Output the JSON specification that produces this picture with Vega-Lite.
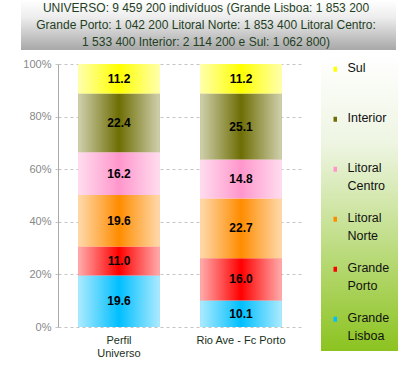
{
  "$schema": "https://vega.github.io/schema/vega-lite/v6.json",
  "padding": {"left": 20, "top": 0, "right": 5, "bottom": 5},
  "background": "white",
  "spacing": 8,
  "config": {"font": "Liberation Sans"},
  "vconcat": [
    {
      "width": 338,
      "height": 50,
      "view": {"stroke": null},
      "data": {"values": [
        {"line": 1, "txt": "UNIVERSO: 9 459 200 indivíduos (Grande Lisboa: 1 853 200"},
        {"line": 2, "txt": "Grande Porto: 1 042 200  Litoral Norte: 1 853 400 Litoral Centro:"},
        {"line": 3, "txt": "1 533 400 Interior: 2 114 200 e Sul: 1 062 800)"}
      ]},
      "layer": [
        {
          "data": {"values": [{"band": "header"}]},
          "mark": {"type": "rect", "fill": {"gradient": "linear", "x1": 0, "y1": 0, "x2": 0, "y2": 1,
            "stops": [{"offset": 0, "color": "#ffffff"}, {"offset": 0.35, "color": "#ededed"}, {"offset": 1, "color": "#a8a8a8"}]}},
          "encoding": {
            "x": {"datum": -0.1095, "type": "quantitative", "scale": {"domain": [0, 1], "nice": false, "zero": false}, "axis": null},
            "x2": {"datum": 1}
          }
        },
        {
          "mark": {"type": "text", "fontSize": 12, "color": "#1f3f1f", "align": "center", "baseline": "middle"},
          "encoding": {
            "y": {"field": "line", "type": "ordinal", "axis": null},
            "x": {"datum": 0.438, "type": "quantitative", "axis": null},
            "text": {"field": "txt"}
          }
        }
      ]
    },
    {
      "width": 244,
      "height": 263,
      "view": {"stroke": null},
      "data": {"values": [
        {"grupo": "Perfil Universo", "regiao": "Grande Lisboa", "ord": 1, "pct": 19.6},
        {"grupo": "Perfil Universo", "regiao": "Grande Porto", "ord": 2, "pct": 11.0},
        {"grupo": "Perfil Universo", "regiao": "Litoral Norte", "ord": 3, "pct": 19.6},
        {"grupo": "Perfil Universo", "regiao": "Litoral Centro", "ord": 4, "pct": 16.2},
        {"grupo": "Perfil Universo", "regiao": "Interior", "ord": 5, "pct": 22.4},
        {"grupo": "Perfil Universo", "regiao": "Sul", "ord": 6, "pct": 11.2},
        {"grupo": "Rio Ave - Fc Porto", "regiao": "Grande Lisboa", "ord": 1, "pct": 10.1},
        {"grupo": "Rio Ave - Fc Porto", "regiao": "Grande Porto", "ord": 2, "pct": 16.0},
        {"grupo": "Rio Ave - Fc Porto", "regiao": "Litoral Norte", "ord": 3, "pct": 22.7},
        {"grupo": "Rio Ave - Fc Porto", "regiao": "Litoral Centro", "ord": 4, "pct": 14.8},
        {"grupo": "Rio Ave - Fc Porto", "regiao": "Interior", "ord": 5, "pct": 25.1},
        {"grupo": "Rio Ave - Fc Porto", "regiao": "Sul", "ord": 6, "pct": 11.2}
      ]},
      "encoding": {
        "x": {
          "field": "grupo", "type": "nominal", "title": null,
          "scale": {"paddingInner": 0.33, "paddingOuter": 0.165},
          "axis": {
            "labelAngle": 0, "ticks": false, "domain": false, "labelPadding": 7,
            "labelFontSize": 11, "labelColor": "#1a301a",
            "labelExpr": "datum.label == 'Perfil Universo' ? ['Perfil', 'Universo'] : datum.label"
          }
        },
        "y": {
          "field": "pct", "type": "quantitative", "stack": "normalize", "title": null,
          "axis": {
            "values": [0, 0.2, 0.4, 0.6, 0.8, 1], "format": ".0%",
            "labelColor": "#888888", "labelFontSize": 11, "labelPadding": 2,
            "domainColor": "#aaaaaa", "tickColor": "#c4c4c4", "tickDash": [3, 3], "tickSize": 5,
            "gridColor": "#c4c4c4", "gridDash": [3, 3]
          }
        },
        "order": {"field": "ord", "type": "quantitative"}
      },
      "layer": [
        {
          "mark": {"type": "bar"},
          "encoding": {
            "color": {
              "field": "regiao", "type": "nominal",
              "scale": {
                "domain": ["Sul", "Interior", "Litoral Centro", "Litoral Norte", "Grande Porto", "Grande Lisboa"],
                "range": ["#ffff00", "#6e6e05", "#ff96cc", "#ff8c00", "#ff0000", "#00bfff"]
              },
              "legend": {
                "title": null, "orient": "none", "legendX": 263, "legendY": 55,
                "padding": 8, "symbolType": "M-0.35,-0.5H0.35V0.5H-0.35Z", "symbolSize": 100,
                "symbolStrokeWidth": 0, "labelFontSize": 12.5, "labelColor": "#111111", "labelOffset": 6,
                "rowPadding": 19,
                "labelExpr": "indexof(datum.label, ' ') > 0 ? split(datum.label, ' ') : [datum.label, '']",
                "labelBaseline": "top",
                "encode": {
                  "legend": {"update": {"fill": {"value": {"gradient": "linear", "x1": 0, "y1": 0, "x2": 0, "y2": 1,
                    "stops": [{"offset": 0, "color": "#ffffff"}, {"offset": 0.3, "color": "#eef5e2"}, {"offset": 1, "color": "#8cc320"}]}}}},
                  "labels": {"update": {"dy": {"value": -7}, "lineHeight": {"value": 18}}}
                }
              }
            }
          }
        },
        {
          "mark": {"type": "bar", "fill": {"gradient": "linear", "x1": 0, "y1": 0, "x2": 1, "y2": 0,
            "stops": [{"offset": 0, "color": "rgba(255,255,255,0.68)"}, {"offset": 0.5, "color": "rgba(255,255,255,0)"}, {"offset": 1, "color": "rgba(255,255,255,0.68)"}]}},
          "encoding": {"detail": {"field": "regiao"}}
        },
        {
          "mark": {"type": "text", "fontWeight": "bold", "fontSize": 12, "color": "#000000", "baseline": "middle"},
          "encoding": {
            "y": {"field": "pct", "type": "quantitative", "stack": "normalize", "bandPosition": 0.5},
            "detail": {"field": "regiao"},
            "text": {"field": "pct", "type": "quantitative", "format": ".1f"}
          }
        }
      ]
    }
  ]
}
